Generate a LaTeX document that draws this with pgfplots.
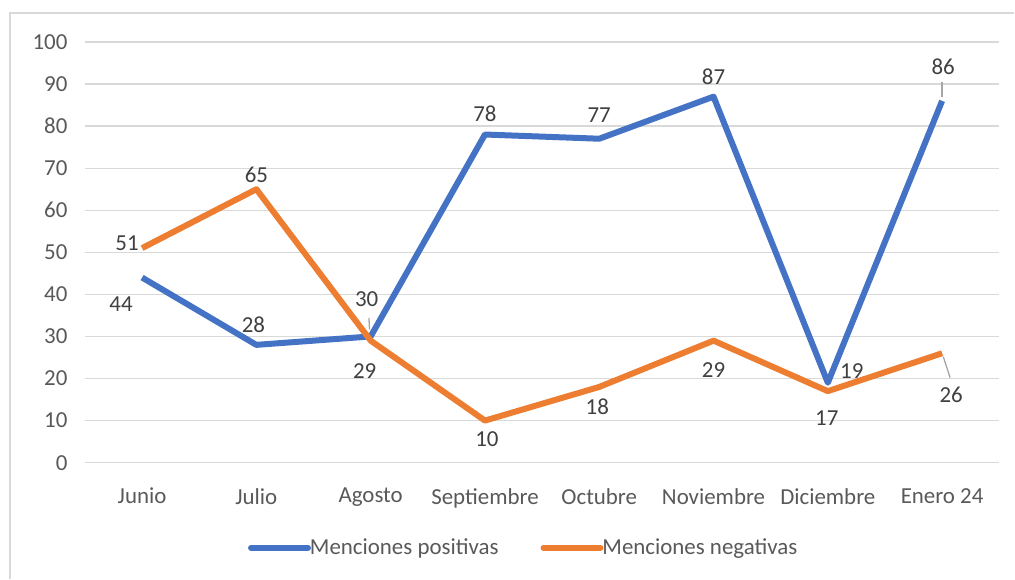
\documentclass[border=0pt]{standalone}
\usepackage{pgfplots}
\pgfplotsset{compat=1.18}
\usepackage{pgfplotstable}
\usepackage{fontspec}
\setmainfont{Carlito}
\definecolor{cblue}{HTML}{4472C4}
\definecolor{corange}{HTML}{ED7D31}
\definecolor{tickgray}{HTML}{595959}
\definecolor{labgray}{HTML}{404040}
\definecolor{gridgray}{HTML}{D9D9D9}
\definecolor{leadgray}{HTML}{A6A6A6}

\pgfplotstableread{
x y dx dy
0 44 -21 -27
1 28 -3 20
2 30 -4 37
3 78 0 21
4 77 0 24
5 87 0 20
6 19 24 12
7 86 1 34
}\posdata

\pgfplotstableread{
x y dx dy
0 51 -15 5
1 65 0 14
2 29 -6 -30
3 10 2 -19
4 18 -2 -20
5 29 0 -29
6 17 -1 -27
7 26 9 -42
}\negdata

\begin{document}
\begin{tikzpicture}
\begin{axis}[
  at={(85bp,116bp)}, anchor=south west,
  scale only axis,
  width=915bp, height=421bp,
  xmin=-0.5, xmax=7.5, ymin=0, ymax=100,
  xtick={0,...,7},
  xticklabels={Junio,Julio,Agosto,Septiembre,Octubre,Noviembre,Diciembre,Enero 24},
  ytick={0,10,...,100},
  ymajorgrids,
  grid style={gridgray, line width=1.3bp},
  axis line style={draw=none},
  major tick length=0pt,
  /pgf/number format/assume math mode=true,
  tick label style={font=\fontsize{23}{27}\selectfont, text=tickgray},
  yticklabel style={xshift=-14bp},
  xticklabel style={yshift=-22bp},
  clip=false,
  legend style={
    at={(0.4798,-0.202)}, anchor=center,
    draw=none, fill=none,
    legend columns=2,
    font=\fontsize{23}{27}\selectfont,
    text=tickgray,
    /tikz/every even column/.append style={column sep=40bp},
    legend cell align=left,
    inner sep=0pt,
  },
  legend image code/.code={\draw[#1, line width=6bp, line cap=round] (0bp,0bp) -- (57bp,0bp);},
  every node near coord/.append style={font=\fontsize{23}{27}\selectfont, text=labgray, anchor=center, xshift=\ldx bp, yshift=\ldy bp},
]
\addplot[cblue, line width=6bp, line join=round,
  nodes near coords,
  visualization depends on={\thisrow{dx}\as\ldx},
  visualization depends on={\thisrow{dy}\as\ldy},
] table[x=x,y=y] {\posdata};
\addlegendentry{\hspace{-3bp}Menciones positivas}
\addplot[corange, line width=6bp, line join=round,
  nodes near coords,
  visualization depends on={\thisrow{dx}\as\ldx},
  visualization depends on={\thisrow{dy}\as\ldy},
] table[x=x,y=y] {\negdata};
\addlegendentry{\hspace{-3bp}Menciones negativas}
\draw[leadgray, line width=1.3bp] (axis cs:1.985,34.4) -- (axis cs:1.99,31.6);
\draw[leadgray, line width=1.3bp] (axis cs:7,90.5) -- (axis cs:7,87);
\draw[leadgray, line width=1.3bp] (axis cs:7.01,25.2) -- (axis cs:7.07,20.2);
\end{axis}
\draw[gridgray, line width=1.5bp] (10bp,0bp) -- (10bp,566bp) -- (1015bp,566bp);
\path[use as bounding box] (0,0) rectangle (1015bp,579bp);
\end{tikzpicture}
\end{document}
